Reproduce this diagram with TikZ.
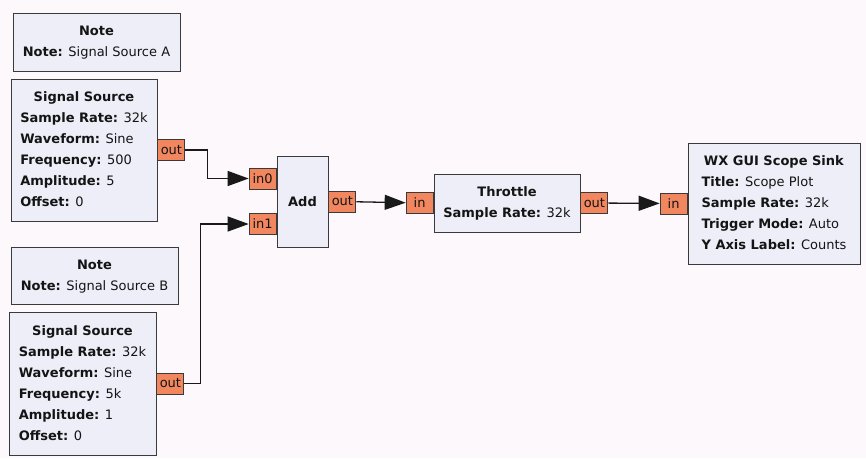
\documentclass[tikz,border=0pt]{standalone}
\usepackage{fontspec}
\setmainfont{DejaVu Sans}
\usepackage{xcolor}
\usetikzlibrary{arrows.meta, positioning}

\definecolor{canvas}{HTML}{FCF8FC}
\definecolor{blockfill}{HTML}{EEEEF9}
\definecolor{portfill}{HTML}{F2875F}
\definecolor{edgegray}{HTML}{3A3A3A}

% one "key: value" line of a block
\newcommand{\param}[2]{\textbf{#1:} #2}
\newcommand{\blocktitle}[1]{\multicolumn{1}{@{}c@{}}{\textbf{#1}}}

\begin{document}
\begin{tikzpicture}[x=1pt, y=-1pt,
    every node/.style={font=\fontsize{13}{21}\selectfont, text=black!92},
    block/.style={draw=edgegray, fill=blockfill, line width=0.9pt, inner sep=0pt},
    port/.style={draw=edgegray, fill=portfill, line width=0.9pt, inner sep=0pt,
                 minimum width=27pt, minimum height=21pt},
    wire/.style={draw=black!90, line width=1.3pt, -{Triangle[length=21pt, width=15pt]}}]

    \fill[canvas] (0,0) rectangle (866,458);

    % Blocks
    \node[block, minimum width=167pt, minimum height=58pt] (noteA) at (96.5,42)
        {\begin{tabular}{@{}l@{}}\blocktitle{Note}\\ \param{Note}{Signal Source A}\end{tabular}};
    \node[block, minimum width=146pt, minimum height=142pt] (srcA) at (84,150)
        {\begin{tabular}{@{}l@{}}\blocktitle{Signal Source}\\
         \param{Sample Rate}{32k}\\ \param{Waveform}{Sine}\\ \param{Frequency}{500}\\
         \param{Amplitude}{5}\\ \param{Offset}{0}\end{tabular}};
    \node[block, minimum width=167pt, minimum height=57pt] (noteB) at (94.5,275.5)
        {\begin{tabular}{@{}l@{}}\blocktitle{Note}\\ \param{Note}{Signal Source B}\end{tabular}};
    \node[block, minimum width=147pt, minimum height=143pt] (srcB) at (82.5,383.5)
        {\begin{tabular}{@{}l@{}}\blocktitle{Signal Source}\\
         \param{Sample Rate}{32k}\\ \param{Waveform}{Sine}\\ \param{Frequency}{5k}\\
         \param{Amplitude}{1}\\ \param{Offset}{0}\end{tabular}};
    \node[block, minimum width=51pt, minimum height=91pt] (add) at (302.5,201.5) {\textbf{Add}};
    \node[block, minimum width=146pt, minimum height=58pt] (thr) at (507,203)
        {\begin{tabular}{@{}l@{}}\blocktitle{Throttle}\\ \param{Sample Rate}{32k}\end{tabular}};
    \node[block, minimum width=172pt, minimum height=121pt] (sink) at (774,203.5)
        {\begin{tabular}{@{}l@{}}\blocktitle{WX GUI Scope Sink}\\
         \param{Title}{Scope Plot}\\ \param{Sample Rate}{32k}\\
         \param{Trigger Mode}{Auto}\\ \param{Y Axis Label}{Counts}\end{tabular}};

    % Ports
    \node[port, right=0pt of srcA] (srcA-out) {out};
    \node[port, right=0pt of srcB] (srcB-out) {out};
    \node[port, left=0pt of add, yshift=23pt] (add-in0) {in0};
    \node[port, left=0pt of add, yshift=-22.5pt] (add-in1) {in1};
    \node[port, right=0pt of add] (add-out) {out};
    \node[port, left=0pt of thr] (thr-in) {in};
    \node[port, right=0pt of thr] (thr-out) {out};
    \node[port, left=0pt of sink] (sink-in) {in};

    % Connections
    \draw[wire] (srcA-out.east) -- ++(22,0) |- (add-in0.west);
    \draw[wire] (srcB-out.east) -- ++(16,0) |- (add-in1.west);
    \draw[wire] (add-out) -- (thr-in);
    \draw[wire] (thr-out) -- (sink-in);
\end{tikzpicture}
\end{document}
